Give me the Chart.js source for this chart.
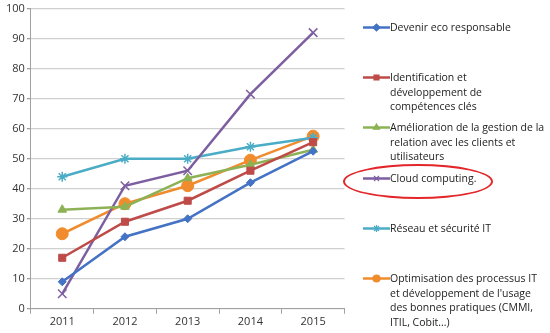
<!DOCTYPE html>
<html><head><meta charset="utf-8">
<script src="https://cdn.jsdelivr.net/npm/chart.js@4"></script>
<style>
html,body{margin:0;padding:0;background:#fff;}
#wrap{position:relative;width:550px;height:333px;overflow:hidden;font-family:"Open Sans","Liberation Sans",sans-serif;}
#cbox{position:absolute;left:0;top:0;width:352px;height:333px;}
.leg{position:absolute;left:363px;font-size:10.5px;line-height:14.5px;color:#222;}
.leg .t{position:absolute;left:27px;top:0;width:190px;white-space:nowrap;}
.leg canvas{position:absolute;left:0;top:0;}
#ell{position:absolute;left:343px;top:164px;width:146px;height:31px;border:2px solid #e3262a;border-radius:50%;}
</style></head><body>
<div id="wrap">
<div id="cbox"><canvas id="c"></canvas></div>
<div id="ell"></div>
<div id="legend"></div>
</div>
<script>
const categories = ["2011","2012","2013","2014","2015"];
const seriesNames = [
  ["Devenir eco responsable"],
  ["Identification et", "développement de", "compétences clés"],
  ["Amélioration de la gestion de la", "relation avec les clients et", "utilisateurs"],
  ["Cloud computing."],
  ["Réseau et sécurité IT"],
  ["Optimisation des processus IT", "et développement de l'usage", "des bonnes pratiques (CMMI,", "ITIL, Cobit...)"]
];
const ecoResponsable = [9, 24, 30, 42, 52.5];
const competences = [17, 29, 36, 46, 55.5];
const relationClients = [33, 34, 43.5, 48, 53];
const cloudComputing = [5, 41, 46, 71.5, 92];
const reseauSecurite = [44, 50, 50, 54, 57];
const optimisation = [25, 35, 41, 49.5, 57.5];
const yTicks = [0,10,20,30,40,50,60,70,80,90,100];

const colors = ["#4472C4","#BE4B48","#8DB255","#7D5FA0","#4BACC6","#F08C2E"];
const pointStyles = ["rectRot","rect","triangle","crossRot","star","circle"];
const radii = [4,5,5,6,5,6];
const values = [ecoResponsable, competences, relationClients, cloudComputing, reseauSecurite, optimisation];

const datasets = values.map((v,i)=>({
  label: seriesNames[i].join(' '),
  data: v,
  borderColor: colors[i],
  backgroundColor: colors[i],
  borderWidth: 2.5,
  pointStyle: pointStyles[i],
  pointRadius: radii[i],
  pointBorderWidth: (pointStyles[i]==="crossRot"||pointStyles[i]==="star") ? 1.5 : 1,
  pointBorderColor: colors[i],
  pointBackgroundColor: colors[i],
  tension: 0
}));

new Chart(document.getElementById('c'), {
  type: 'line',
  data: { labels: categories, datasets },
  options: {
    responsive: true, maintainAspectRatio: false, animation: false,
    layout: { padding: { top: 8, right: 6, bottom: 4, left: 4 } },
    plugins: { legend: { display: false }, tooltip: { enabled: false } },
    scales: {
      x: {
        offset: true,
        grid: { display: true, drawOnChartArea: false, drawTicks: true, tickLength: 5, offset: true, color: '#a0a0a0' },
        border: { display: true, color: '#a0a0a0' },
        ticks: { color: '#333', font: { family: "Open Sans", size: 11 }, padding: 1 }
      },
      y: {
        min: 0, max: 100,
        afterBuildTicks: ax => { ax.ticks = yTicks.map(v=>({value:v})); },
        grid: { color: '#d0d0d0', lineWidth: 1.3, drawTicks: true, tickLength: 4, tickColor: '#a0a0a0' },
        border: { display: true, color: '#a0a0a0' },
        ticks: { color: '#333', font: { family: "Open Sans", size: 11 }, padding: 2 }
      }
    }
  }
});

// HTML legend
const legTops = [20, 70, 120, 171, 221, 271];
const legEl = document.getElementById('legend');
seriesNames.forEach((lines,i)=>{
  const d = document.createElement('div');
  d.className = 'leg';
  d.style.top = legTops[i] + 'px';
  const cv = document.createElement('canvas');
  cv.width = 28; cv.height = 14;
  const g = cv.getContext('2d');
  g.strokeStyle = colors[i]; g.lineWidth = 2.5;
  g.beginPath(); g.moveTo(0,7.5); g.lineTo(27,7.5); g.stroke();
  g.fillStyle = colors[i];
  g.lineWidth = 1.2;
  Chart.helpers.drawPoint(g, {pointStyle: pointStyles[i], radius: 3.5, borderWidth: 1.2}, 13.5, 7.5);
  d.appendChild(cv);
  const t = document.createElement('div');
  t.className = 't';
  lines.forEach((ln,k)=>{
    if (k) t.appendChild(document.createElement('br'));
    t.appendChild(document.createTextNode(ln));
  });
  d.appendChild(t);
  legEl.appendChild(d);
});
</script>
</body></html>
